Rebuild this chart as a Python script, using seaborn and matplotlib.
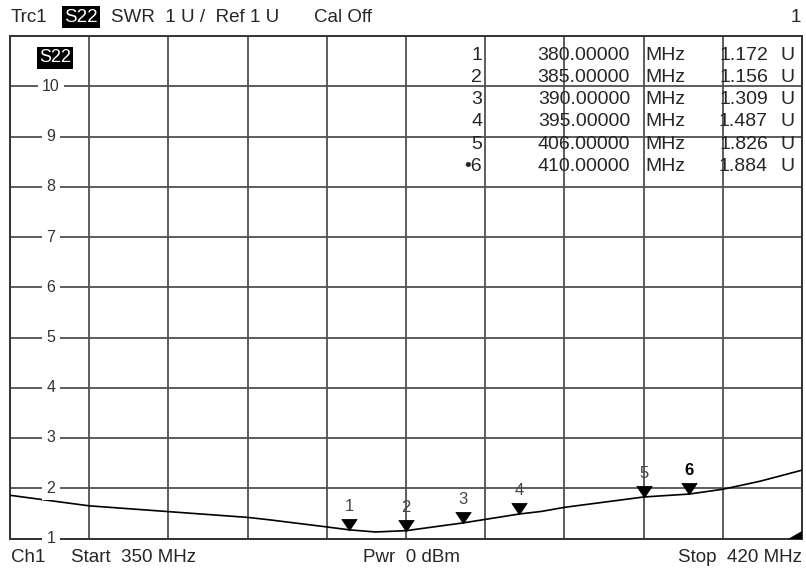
import numpy as np
import pandas as pd
import matplotlib
matplotlib.use("Agg")
import matplotlib.pyplot as plt
from matplotlib.patches import Polygon
import seaborn as sns

# Trace (SWR of S22)
freq_mhz = [350, 357, 364, 371, 373, 378, 380, 382.3, 385, 390, 392, 395, 397, 399, 406, 410, 413, 416.3, 420]
swr = [1.86, 1.65, 1.535, 1.42, 1.37, 1.23, 1.172, 1.13, 1.156, 1.309, 1.38, 1.487, 1.54, 1.62, 1.826, 1.884, 1.98, 2.14, 2.36]

# Markers
marker_ids = ["1", "2", "3", "4", "5", "6"]
marker_freq = [380, 385, 390, 395, 406, 410]
marker_swr = [1.172, 1.156, 1.309, 1.487, 1.826, 1.884]

y_ticks = [1, 2, 3, 4, 5, 6, 7, 8, 9, 10]

W, H = 806, 574
sns.set_style("white")
plt.rcParams["font.family"] = ["Liberation Sans", "DejaVu Sans"]

fig = plt.figure(figsize=(W / 100, H / 100), dpi=100)
ax = fig.add_axes([10 / W, (H - 538.5) / H, 792 / W, (538.5 - 36) / H])

grid_col = "#505050"
ax.set_xlim(350, 420)
ax.set_ylim(1, 11)
ax.set_xticks(np.arange(350, 421, 7))
ax.set_yticks(range(1, 12))
ax.grid(True, color=grid_col, linewidth=1.3)
ax.tick_params(length=0, labelbottom=False, labelleft=False)
for s in ax.spines.values():
    s.set_color("#333333")
    s.set_linewidth(1.4)

# trace
df = pd.DataFrame({"f": freq_mhz, "swr": swr})
sns.lineplot(data=df, x="f", y="swr", ax=ax, color="black", linewidth=1.2, zorder=3)

# marker triangles
mk = pd.DataFrame({"f": marker_freq, "swr": marker_swr, "id": marker_ids})
sns.scatterplot(data=mk, x="f", y="swr", ax=ax, marker=7, s=120, color="black",
                edgecolor="black", zorder=4, legend=False)
ax.set_xlabel("")
ax.set_ylabel("")
for mid, f, v in zip(marker_ids, marker_freq, marker_swr):
    bold = mid == "6"
    ax.annotate(mid, (f, v), xytext=(0, 17), textcoords="offset points",
                ha="center", va="center", fontsize=12,
                color="black" if bold else "#444444",
                fontweight="bold" if bold else "normal")

# y labels inside the grid
for t in y_ticks:
    ax.text(41 / 792, t, str(t), transform=ax.get_yaxis_transform(), ha="center", va="center",
            fontsize=11.5, color="#333333",
            bbox=dict(facecolor="white", edgecolor="none", pad=3), zorder=5)

# trace label box
ax.text(45 / 792, 1 - (58 - 36) / 502.5, "S22", transform=ax.transAxes, ha="center", va="center",
        fontsize=13, color="white",
        bbox=dict(facecolor="black", edgecolor="none", pad=1.5))

# corner triangle
ax.add_patch(Polygon([(1 - 14 / 792, 0), (1, 0), (1, 8 / 502.5)], closed=True,
                     transform=ax.transAxes, facecolor="black", edgecolor="none",
                     clip_on=False, zorder=6))

# marker table
def px(x, y):
    return x / W, 1 - y / H

row_y = [55, 77.5, 100, 122, 144.5, 167]
for mid, f, v, y in zip(marker_ids, marker_freq, marker_swr, row_y):
    label = "\u2022" + mid if mid == "6" else mid
    fig.text(*px(482, y), label, ha="right", va="center", fontsize=14)
    fig.text(*px(630, y), f"{f:.5f}", ha="right", va="center", fontsize=14)
    fig.text(*px(645, y), "MHz", ha="left", va="center", fontsize=14)
    fig.text(*px(768, y), f"{v:.3f}", ha="right", va="center", fontsize=14)
    fig.text(*px(780, y), "U", ha="left", va="center", fontsize=14)

# header
hy = 17
fig.text(*px(11, hy), "Trc1", ha="left", va="center", fontsize=13.5)
fig.text(*px(81, hy), "S22", ha="center", va="center", fontsize=13.5, color="white",
         bbox=dict(facecolor="black", edgecolor="none", pad=1.5))
fig.text(*px(111, hy), "SWR  1 U /  Ref 1 U", ha="left", va="center", fontsize=13.5)
fig.text(*px(314, hy), "Cal Off", ha="left", va="center", fontsize=13.5)
fig.text(*px(801, hy), "1", ha="right", va="center", fontsize=13.5)

# footer
fy = 557
fig.text(*px(11, fy), "Ch1", ha="left", va="center", fontsize=13.5)
fig.text(*px(71, fy), "Start  350 MHz", ha="left", va="center", fontsize=13.5)
fig.text(*px(363, fy), "Pwr  0 dBm", ha="left", va="center", fontsize=13.5)
fig.text(*px(802, fy), "Stop  420 MHz", ha="right", va="center", fontsize=13.5)

fig.savefig("out.png", dpi=100)
